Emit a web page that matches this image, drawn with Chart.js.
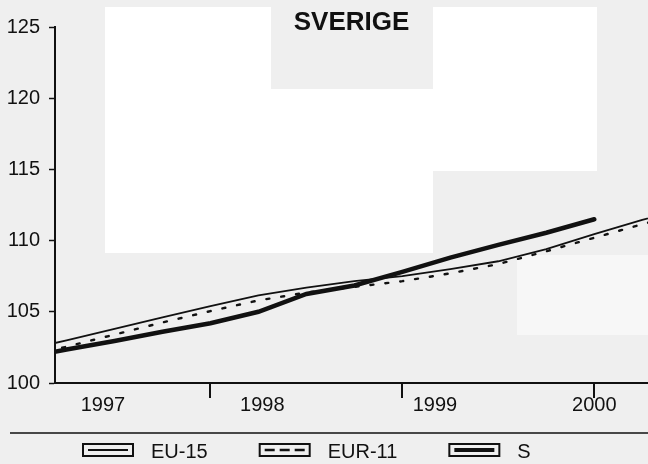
<!DOCTYPE html>
<html>
<head>
<meta charset="utf-8">
<title>Sverige</title>
<script src="https://cdn.jsdelivr.net/npm/chart.js@4.4.0/dist/chart.umd.min.js"></script>
<style>
  html, body { margin: 0; padding: 0; background: #efefef; }
  #wrap { width: 648px; height: 464px; }
</style>
</head>
<body>
<div id="wrap"><canvas id="chart" width="648" height="464"></canvas></div>
<script>
// Index values per quarter (decimal year)
const quarters = [1997.0, 1997.25, 1997.5, 1997.75, 1998.0, 1998.25, 1998.5, 1998.75,
                  1999.0, 1999.25, 1999.5, 1999.75, 2000.0, 2000.25, 2000.5];
const eu15    = [102.2, 103.0, 103.8, 104.6, 105.4, 106.15, 106.7, 107.15,
                 107.5, 108.0, 108.55, 109.4, 110.45, 111.45, 112.4];
const eur11   = [101.7, 102.55, 103.4, 104.25, 105.05, 105.8, 106.35, 106.75,
                 107.15, 107.7, 108.35, 109.25, 110.2, 111.15, 112.0];
const sverige = [101.7, 102.35, 102.95, 103.6, 104.2, 105.0, 106.25, 106.85,
                 107.8, 108.8, 109.7, 110.55, 111.5];

const seriesNames = ['EU-15', 'EUR-11', 'S'];
const yTicks = [100, 105, 110, 115, 120, 125];
const yearLabels = ['1997', '1998', '1999', '2000'];
const yearLabelAt = [1997.44, 1998.27, 1999.17, 2000.0];
const yearBreaks = [1998, 1999, 2000];

const FONT = "'Liberation Sans', Arial, Helvetica, sans-serif";
const INK = '#111';

function points(values) {
    return values.map((v, i) => ({ x: quarters[i], y: v }));
}

// scanned paper look: grey page with lighter patches
const paper = {
    id: 'paper',
    beforeDraw(chart) {
        const ctx = chart.ctx;
        ctx.save();
        ctx.fillStyle = '#efefef';
        ctx.fillRect(0, 0, chart.width, chart.height);
        ctx.fillStyle = '#ffffff';
        ctx.fillRect(105, 7, 166, 246);
        ctx.fillRect(271, 89, 162, 164);
        ctx.fillRect(433, 7, 164, 164);
        ctx.fillStyle = '#f7f7f7';
        ctx.fillRect(517, 255, 131, 80);
        ctx.restore();
    }
};

// year separators below the x axis, the rule and the boxed legend
const extras = {
    id: 'extras',
    afterDraw(chart) {
        const ctx = chart.ctx;
        const xs = chart.scales.x;
        const bottom = chart.chartArea.bottom;
        ctx.save();
        ctx.strokeStyle = INK;
        ctx.fillStyle = INK;
        ctx.lineWidth = 2;
        yearBreaks.forEach(v => {
            const px = Math.round(xs.getPixelForValue(v));
            ctx.beginPath();
            ctx.moveTo(px, bottom);
            ctx.lineTo(px, bottom + 15);
            ctx.stroke();
        });

        ctx.lineWidth = 1.5;
        ctx.beginPath();
        ctx.moveTo(10, 433);
        ctx.lineTo(chart.width, 433);
        ctx.stroke();

        ctx.font = '20px ' + FONT;
        ctx.textBaseline = 'middle';
        ctx.textAlign = 'left';
        let bx = 83;
        chart.data.datasets.forEach(ds => {
            ctx.setLineDash([]);
            ctx.lineWidth = 2;
            ctx.strokeRect(bx, 444, 50, 12);
            ctx.beginPath();
            ctx.lineWidth = Math.min(ds.borderWidth, 4);
            ctx.setLineDash(ds.borderDash ? [10, 5] : []);
            ctx.moveTo(bx + 5, 450);
            ctx.lineTo(bx + 45, 450);
            ctx.stroke();
            ctx.setLineDash([]);
            ctx.fillText(ds.label, bx + 68, 452);
            bx += 68 + ctx.measureText(ds.label).width + 52;
        });
        ctx.restore();
    }
};

Chart.defaults.font.family = FONT;
Chart.defaults.color = INK;

new Chart(document.getElementById('chart'), {
    type: 'line',
    data: {
        datasets: [{
            label: seriesNames[0],
            data: points(eu15),
            borderColor: INK,
            borderWidth: 1.8,
            pointRadius: 0,
            clip: 0
        }, {
            label: seriesNames[1],
            data: points(eur11),
            borderColor: INK,
            borderWidth: 2.4,
            borderDash: [3, 12],
            borderCapStyle: 'round',
            pointRadius: 0,
            clip: 0
        }, {
            label: seriesNames[2],
            data: points(sverige),
            borderColor: INK,
            borderWidth: 4.5,
            borderCapStyle: 'round',
            pointRadius: 0,
            clip: 0
        }]
    },
    options: {
        responsive: false,
        animation: false,
        layout: { padding: { left: 0, right: 0, top: 0, bottom: 37 } },
        scales: {
            x: {
                type: 'linear',
                min: 1997.19,
                max: 2000.28,
                afterBuildTicks: function(scale) {
                    scale.ticks = yearLabelAt.map(v => ({ value: v }));
                },
                ticks: {
                    font: { size: 20 },
                    color: INK,
                    padding: 10,
                    maxRotation: 0,
                    autoSkip: false,
                    callback: function(value, index) {
                        return yearLabels[index];
                    }
                },
                grid: { drawOnChartArea: false, drawTicks: false },
                border: { color: INK, width: 2 }
            },
            y: {
                min: 100,
                max: 125,
                afterBuildTicks: function(scale) {
                    scale.ticks = yTicks.map(v => ({ value: v }));
                },
                afterFit: function(scale) {
                    scale.width = 55;
                },
                ticks: {
                    font: { size: 20 },
                    color: INK,
                    padding: 9
                },
                grid: {
                    drawOnChartArea: false,
                    drawTicks: true,
                    tickLength: 6,
                    tickColor: INK,
                    tickWidth: 1.5
                },
                border: { color: INK, width: 2 }
            }
        },
        plugins: {
            legend: { display: false },
            tooltip: { enabled: false },
            title: {
                display: true,
                text: 'SVERIGE',
                fullSize: false,
                color: INK,
                font: { size: 26, weight: 'bold', lineHeight: 1 },
                padding: { top: 9.5, bottom: -8.5 }
            }
        }
    },
    plugins: [paper, extras]
});
</script>
</body>
</html>
